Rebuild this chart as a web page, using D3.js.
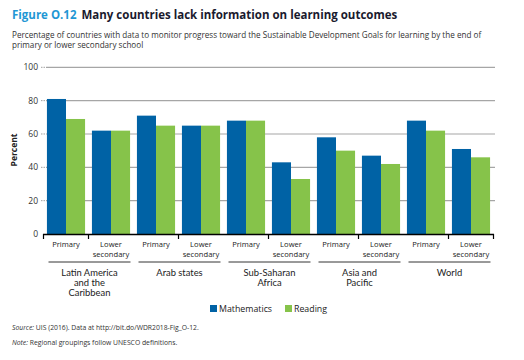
<!DOCTYPE html>
<html><head><meta charset="utf-8">
<script src="https://cdn.jsdelivr.net/npm/d3@7"></script>
<style>body{margin:0;background:#fff;} text{font-family:"Open Sans",sans-serif;}</style>
</head><body>
<svg id="c" width="524" height="360"></svg>
<script>
const groups = ["Latin America|and the|Caribbean", "Arab states", "Sub-Saharan|Africa", "Asia and|Pacific", "World"];
const levels = ["Primary", "Lower|secondary"];
const mathematics = [81, 62, 71, 65, 68, 43, 58, 47, 68, 51];
const reading = [69, 62, 65, 65, 68, 33, 50, 42, 62, 46];
const yTicks = [0, 20, 40, 60, 80, 100];
const seriesNames = ["Mathematics", "Reading"];
const colors = ["#0062a5", "#86c34a"];

const svg = d3.select("#c");
const cats = [];
groups.forEach((g, gi) => levels.forEach((l, li) => cats.push({id: gi + "-" + li, g: gi, level: l})));

const x = d3.scaleBand().domain(cats.map(c => c.id)).range([43.5, 493.5]).paddingInner(0).paddingOuter(0);
const y = d3.scaleLinear().domain([0, 100]).range([234, 67.3]);
const xs = d3.scaleBand().domain(seriesNames).range([0, x.bandwidth()]).paddingInner(0).paddingOuter(0.18);

// title
const t = svg.append("text").attr("x", 12).attr("y", 19).attr("font-size", 11.5).attr("font-weight", "bold");
t.append("tspan").attr("fill", "#1f97d4").text("Figure O.12");
t.append("tspan").attr("fill", "#1a1a2e").attr("dx", 5).text("Many countries lack information on learning outcomes");
svg.append("text").attr("x", 12).attr("y", 38).attr("font-size", 8.15).attr("fill", "#333")
  .text("Percentage of countries with data to monitor progress toward the Sustainable Development Goals for learning by the end of");
svg.append("text").attr("x", 12).attr("y", 48).attr("font-size", 8.15).attr("fill", "#333")
  .text("primary or lower secondary school");

// grid
yTicks.filter(d => d > 0).forEach(d => {
  svg.append("line").attr("x1", 41).attr("x2", 46).attr("y1", y(d)).attr("y2", y(d))
    .attr("stroke", "#a0a0a0").attr("stroke-width", 1).attr("stroke-dasharray", "1.5,1");
  svg.append("line").attr("x1", 46).attr("x2", 495).attr("y1", y(d)).attr("y2", y(d))
    .attr("stroke", "#a6a6a6").attr("stroke-width", 1.2);
});
// y labels
svg.append("g").selectAll("text").data(yTicks).join("text")
  .attr("x", 38).attr("y", d => y(d) + 3).attr("text-anchor", "end")
  .attr("font-size", 8.5).attr("fill", "#333").text(d => d);
svg.append("text").attr("transform", "translate(17,150) rotate(-90)").attr("text-anchor", "middle")
  .attr("font-size", 8.5).attr("font-weight", "bold").attr("fill", "#222").text("Percent");

// bars
const data = [mathematics, reading];
data.forEach((vals, si) => {
  svg.append("g").selectAll("rect").data(cats).join("rect")
    .attr("x", (c) => x(c.id) + xs(seriesNames[si]))
    .attr("width", xs.bandwidth())
    .attr("y", (c, i) => y(vals[i]))
    .attr("height", (c, i) => y(0) - y(vals[i]))
    .attr("fill", colors[si]);
});

// x axis
svg.append("line").attr("x1", 43).attr("x2", 494).attr("y1", 234.5).attr("y2", 234.5).attr("stroke", "#000").attr("stroke-width", 1.5);
const tickPos = [x(cats[0].id)];
groups.forEach((g, gi) => tickPos.push(x(gi + "-1")));
tickPos.push(x(cats[cats.length - 1].id) + x.bandwidth());
tickPos.forEach(p => svg.append("line").attr("x1", p).attr("x2", p).attr("y1", 234).attr("y2", 239).attr("stroke", "#000").attr("stroke-width", 1.2));

// level labels
cats.forEach(c => {
  const cx = x(c.id) + x.bandwidth() / 2;
  const tx = svg.append("text").attr("y", 247).attr("text-anchor", "middle").attr("font-size", 7.6).attr("fill", "#222");
  c.level.split("|").forEach((ln, k) => tx.append("tspan").attr("x", cx).attr("dy", k ? 10 : 0).text(ln));
});
// group labels
groups.forEach((g, gi) => {
  const x0 = x(gi + "-0"), x1 = x(gi + "-1") + x.bandwidth();
  svg.append("line").attr("x1", x0 + 5).attr("x2", x1 - 3).attr("y1", 262).attr("y2", 262).attr("stroke", "#000").attr("stroke-width", 0.8);
  const tx = svg.append("text").attr("y", 275.5).attr("text-anchor", "middle")
    .style("font-family", "Lato, sans-serif").attr("font-size", 9.4).attr("fill", "#222");
  g.split("|").forEach((ln, k) => tx.append("tspan").attr("x", (x0 + x1) / 2 + 1).attr("dy", k ? 10.4 : 0).text(ln));
});

// legend
const lg = [{n: seriesNames[0], x: 210}, {n: seriesNames[1], x: 285}];
lg.forEach((l, i) => {
  svg.append("rect").attr("x", l.x).attr("y", 305).attr("width", 7).attr("height", 7).attr("fill", colors[i]);
  svg.append("text").attr("x", l.x + 9).attr("y", 312).attr("font-size", 8.8).attr("fill", "#222").text(l.n);
});

// notes
const s = svg.append("text").attr("x", 12).attr("y", 330).attr("font-size", 6.8).attr("fill", "#333");
s.append("tspan").attr("font-style", "italic").text("Source:");
s.append("tspan").text(" UIS (2016). Data at http://bit.do/WDR2018-Fig_O-12.");
const n = svg.append("text").attr("x", 12).attr("y", 345).attr("font-size", 6.8).attr("fill", "#333");
n.append("tspan").attr("font-style", "italic").text("Note:");
n.append("tspan").text(" Regional groupings follow UNESCO definitions.");
</script>
</body></html>
